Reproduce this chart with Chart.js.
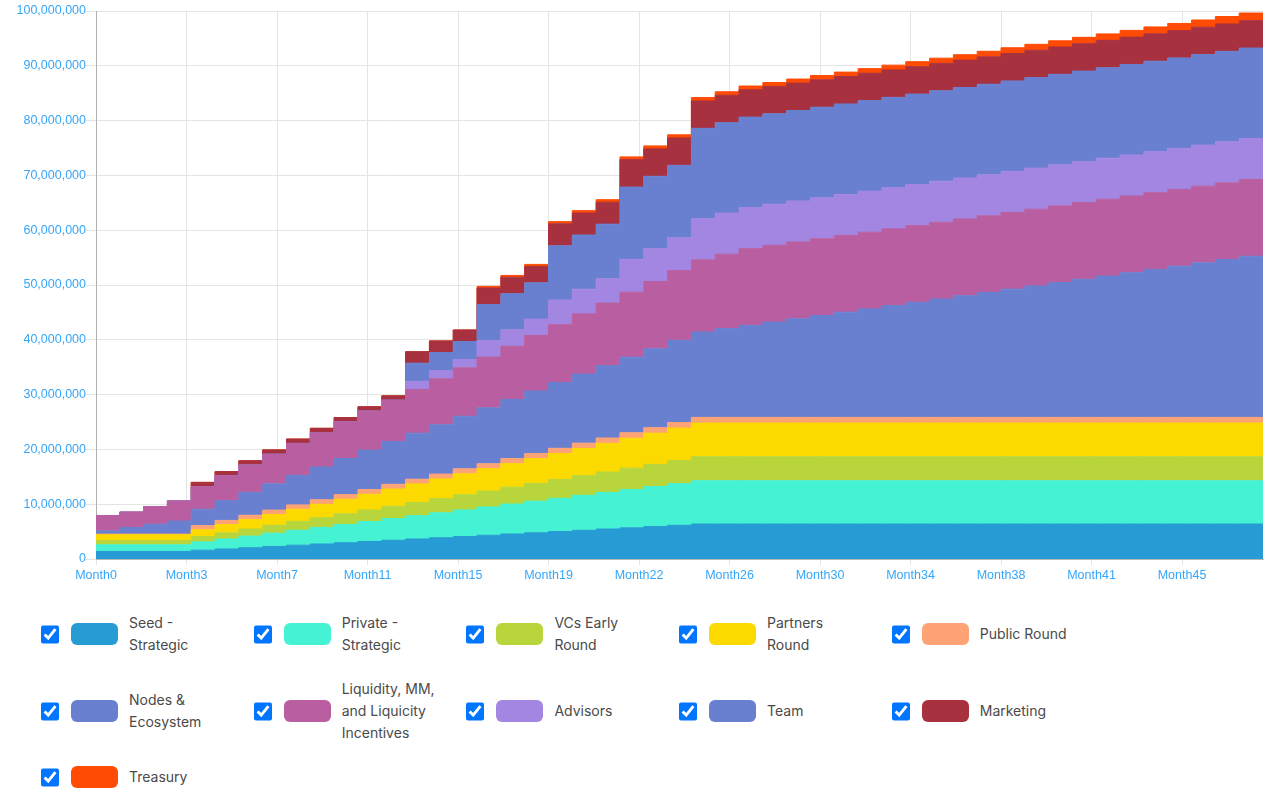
<!DOCTYPE html>
<html>
<head>
<meta charset="utf-8">
<script src="https://cdn.jsdelivr.net/npm/chart.js@4.4.0/dist/chart.umd.min.js"></script>
<style>
  body { margin: 0; background: #fff; font-family: Inter, Roboto, sans-serif; }
  #wrap { position: relative; width: 1280px; height: 592px; }
  #legend {
    position: absolute; left: 41px; top: 612px; width: 1100px;
    display: flex; flex-wrap: wrap; row-gap: 22px;
  }
  .item { width: 212.7px; display: flex; align-items: center; }
  .item input { width: 18px; height: 19px; margin: 0; }
  .item .sw { width: 47px; height: 22px; border-radius: 6px; margin-left: 12px; flex: none; }
  .item span { margin-left: 11px; width: 102px; font-size: 14px; line-height: 22px; color: #4a4a4a; }
</style>
</head>
<body>
<div id="wrap"><canvas id="chart1"></canvas></div>
<div id="legend"></div>
<script>
// values in millions of tokens, one per month (Month0 .. Month48)
var months = [];
for (var m = 0; m <= 48; m++) months.push("Month" + m);

var xTickLabels = ["Month0", "Month3", "Month7", "Month11", "Month15", "Month19", "Month22",
  "Month26", "Month30", "Month34", "Month38", "Month41", "Month45"];

var seedStrategic = [1.38, 1.38, 1.38, 1.38, 1.61, 1.83, 2.06, 2.29, 2.52, 2.74, 2.97, 3.20, 3.42,
  3.65, 3.88, 4.10, 4.33, 4.56, 4.79, 5.01, 5.24, 5.47, 5.69, 5.92, 6.15, 6.38,
  6.38, 6.38, 6.38, 6.38, 6.38, 6.38, 6.38, 6.38, 6.38, 6.38, 6.38, 6.38, 6.38, 6.38,
  6.38, 6.38, 6.38, 6.38, 6.38, 6.38, 6.38, 6.38, 6.38];
var privateStrategic = [1.21, 1.21, 1.21, 1.21, 1.51, 1.82, 2.12, 2.43, 2.73, 3.03, 3.34, 3.64, 3.95,
  4.25, 4.55, 4.86, 5.16, 5.47, 5.77, 6.07, 6.38, 6.68, 6.99, 7.29, 7.60, 7.90,
  7.90, 7.90, 7.90, 7.90, 7.90, 7.90, 7.90, 7.90, 7.90, 7.90, 7.90, 7.90, 7.90, 7.90,
  7.90, 7.90, 7.90, 7.90, 7.90, 7.90, 7.90, 7.90, 7.90];
var vcsEarly = [0.80, 0.80, 0.80, 0.80, 0.96, 1.13, 1.29, 1.45, 1.62, 1.78, 1.94, 2.10, 2.27,
  2.43, 2.59, 2.76, 2.92, 3.08, 3.24, 3.41, 3.57, 3.73, 3.90, 4.06, 4.22, 4.38,
  4.38, 4.38, 4.38, 4.38, 4.38, 4.38, 4.38, 4.38, 4.38, 4.38, 4.38, 4.38, 4.38, 4.38,
  4.38, 4.38, 4.38, 4.38, 4.38, 4.38, 4.38, 4.38, 4.38];
var partnersRound = [1.03, 1.03, 1.03, 1.03, 1.26, 1.50, 1.73, 1.96, 2.20, 2.43, 2.66, 2.89, 3.13,
  3.36, 3.59, 3.83, 4.06, 4.29, 4.52, 4.76, 4.99, 5.22, 5.46, 5.69, 5.92, 6.15,
  6.15, 6.15, 6.15, 6.15, 6.15, 6.15, 6.15, 6.15, 6.15, 6.15, 6.15, 6.15, 6.15, 6.15,
  6.15, 6.15, 6.15, 6.15, 6.15, 6.15, 6.15, 6.15, 6.15];
var publicRound = [0.12, 0.12, 0.12, 0.12, 0.75, 0.76, 0.78, 0.79, 0.80, 0.82, 0.83, 0.84, 0.86,
  0.87, 0.88, 0.90, 0.91, 0.92, 0.94, 0.95, 0.96, 0.98, 0.99, 1.00, 1.02, 1.03,
  1.03, 1.03, 1.03, 1.03, 1.03, 1.03, 1.03, 1.03, 1.03, 1.03, 1.03, 1.03, 1.03, 1.03,
  1.03, 1.03, 1.03, 1.03, 1.03, 1.03, 1.03, 1.03, 1.03];
var nodesEcosystem = [0.6, 1.2, 1.8, 2.4, 3.0, 3.6, 4.2, 4.8, 5.4, 6.0, 6.6, 7.2, 7.8,
  8.4, 9.0, 9.6, 10.2, 10.8, 11.4, 12.0, 12.6, 13.2, 13.8, 14.4, 15.0, 15.6,
  16.2, 16.8, 17.4, 18.0, 18.6, 19.2, 19.8, 20.4, 21.0, 21.6, 22.2, 22.8, 23.4, 24.0,
  24.6, 25.2, 25.8, 26.4, 27.0, 27.6, 28.2, 28.8, 29.4];
var liquidity = [2.80, 2.80, 3.23, 3.66, 4.09, 4.52, 4.96, 5.39, 5.82, 6.25, 6.68, 7.11, 7.54,
  7.97, 8.40, 8.84, 9.27, 9.70, 10.13, 10.56, 10.99, 11.42, 11.85, 12.28, 12.72, 13.15,
  13.58, 14.0, 14.0, 14.0, 14.0, 14.0, 14.0, 14.0, 14.0, 14.0, 14.0, 14.0, 14.0, 14.0,
  14.0, 14.0, 14.0, 14.0, 14.0, 14.0, 14.0, 14.0, 14.0];
var advisors = [0, 0, 0, 0, 0, 0, 0, 0, 0, 0, 0, 0, 0,
  1.5, 1.5, 1.5, 3.0, 3.0, 3.0, 4.5, 4.5, 4.5, 6.0, 6.0, 6.0, 7.5,
  7.5, 7.5, 7.5, 7.5, 7.5, 7.5, 7.5, 7.5, 7.5, 7.5, 7.5, 7.5, 7.5, 7.5,
  7.5, 7.5, 7.5, 7.5, 7.5, 7.5, 7.5, 7.5, 7.5];
var team = [0, 0, 0, 0, 0, 0, 0, 0, 0, 0, 0, 0, 0,
  3.3, 3.3, 3.3, 6.6, 6.6, 6.6, 9.9, 9.9, 9.9, 13.2, 13.2, 13.2, 16.5,
  16.5, 16.5, 16.5, 16.5, 16.5, 16.5, 16.5, 16.5, 16.5, 16.5, 16.5, 16.5, 16.5, 16.5,
  16.5, 16.5, 16.5, 16.5, 16.5, 16.5, 16.5, 16.5, 16.5];
var marketing = [0, 0, 0, 0, 0.8, 0.8, 0.8, 0.8, 0.8, 0.8, 0.8, 0.8, 0.8,
  2.1, 2.1, 2.1, 3.0, 3.0, 3.0, 4.0, 4.0, 4.0, 5.0, 5.0, 5.0, 5.0,
  5.0, 5.0, 5.0, 5.0, 5.0, 5.0, 5.0, 5.0, 5.0, 5.0, 5.0, 5.0, 5.0, 5.0,
  5.0, 5.0, 5.0, 5.0, 5.0, 5.0, 5.0, 5.0, 5.0];
var treasury = [0, 0, 0, 0, 0, 0, 0, 0, 0, 0, 0, 0, 0,
  0, 0, 0, 0.30, 0.33, 0.37, 0.40, 0.44, 0.47, 0.50, 0.54, 0.57, 0.61,
  0.64, 0.67, 0.71, 0.74, 0.78, 0.81, 0.84, 0.88, 0.91, 0.95, 0.98, 1.01, 1.05, 1.08,
  1.12, 1.15, 1.18, 1.22, 1.25, 1.29, 1.32, 1.35, 1.39];

var series = [
  { name: "Seed - Strategic", color: "#279bd3", values: seedStrategic },
  { name: "Private - Strategic", color: "#45f2d4", values: privateStrategic },
  { name: "VCs Early Round", color: "#b8d63b", values: vcsEarly },
  { name: "Partners Round", color: "#fcda00", values: partnersRound },
  { name: "Public Round", color: "#fea375", values: publicRound },
  { name: "Nodes & Ecosystem", color: "#6880cf", values: nodesEcosystem },
  { name: "Liquidity, MM, and Liquicity Incentives", color: "#b95fa1", values: liquidity },
  { name: "Advisors", color: "#a286e2", values: advisors },
  { name: "Team", color: "#6880cf", values: team },
  { name: "Marketing", color: "#a8313f", values: marketing },
  { name: "Treasury", color: "#ff4b03", values: treasury },
];

var tickStep = 3.8;
var axisBlue = "#35a6f8";

var datasets = series.map(function (s, i) {
  var pts = s.values.map(function (v, k) {
    return { x: k, y: v * 1e6 };
  });
  // hold the last month's value to the right edge of the plot
  pts.push({ x: months.length, y: s.values[s.values.length - 1] * 1e6 });
  return {
    label: s.name,
    data: pts,
    stepped: true,
    fill: i === 0 ? "origin" : "-1",
    backgroundColor: s.color,
    borderColor: s.color,
    borderWidth: 1,
    pointRadius: 0,
    pointHitRadius: 0,
  };
});

var ctx = document.getElementById("chart1").getContext("2d");
var myChart = new Chart(ctx, {
  type: "line",
  data: { datasets: datasets },
  options: {
    responsive: true,
    maintainAspectRatio: false,
    animation: false,
    layout: { padding: { top: 11, right: 17, bottom: 6, left: 0 } },
    plugins: { legend: { display: false }, tooltip: { enabled: false } },
    scales: {
      x: {
        type: "linear",
        min: 0,
        max: months.length,
        afterBuildTicks: function (scale) {
          scale.ticks = xTickLabels.map(function (l, i) {
            return { value: i * tickStep };
          });
        },
        ticks: {
          autoSkip: false,
          maxRotation: 0,
          padding: 3,
          color: axisBlue,
          font: { family: "Liberation Sans, Arial", size: 12.5 },
          callback: function (v, i) {
            return xTickLabels[i];
          },
        },
        grid: { color: "#e4e4e4", tickLength: 6 },
        border: { color: "#b8b8b8" },
      },
      y: {
        stacked: true,
        min: 0,
        max: 100000000,
        afterFit: function (scale) {
          scale.width = 96;
        },
        ticks: {
          stepSize: 10000000,
          padding: 0,
          color: axisBlue,
          font: { family: "Liberation Sans, Arial", size: 12.5 },
          callback: function (v) {
            return v.toLocaleString("en-US");
          },
        },
        grid: { color: "#e4e4e4", tickLength: 10 },
        border: { color: "#b0b0b0" },
      },
    },
  },
});

var legend = document.getElementById("legend");
series.forEach(function (s) {
  var item = document.createElement("div");
  item.className = "item";
  item.innerHTML = '<input type="checkbox" checked><div class="sw" style="background:' +
    s.color + '"></div><span>' + s.name.replace("&", "&amp;") + "</span>";
  legend.appendChild(item);
});
</script>
</body>
</html>
